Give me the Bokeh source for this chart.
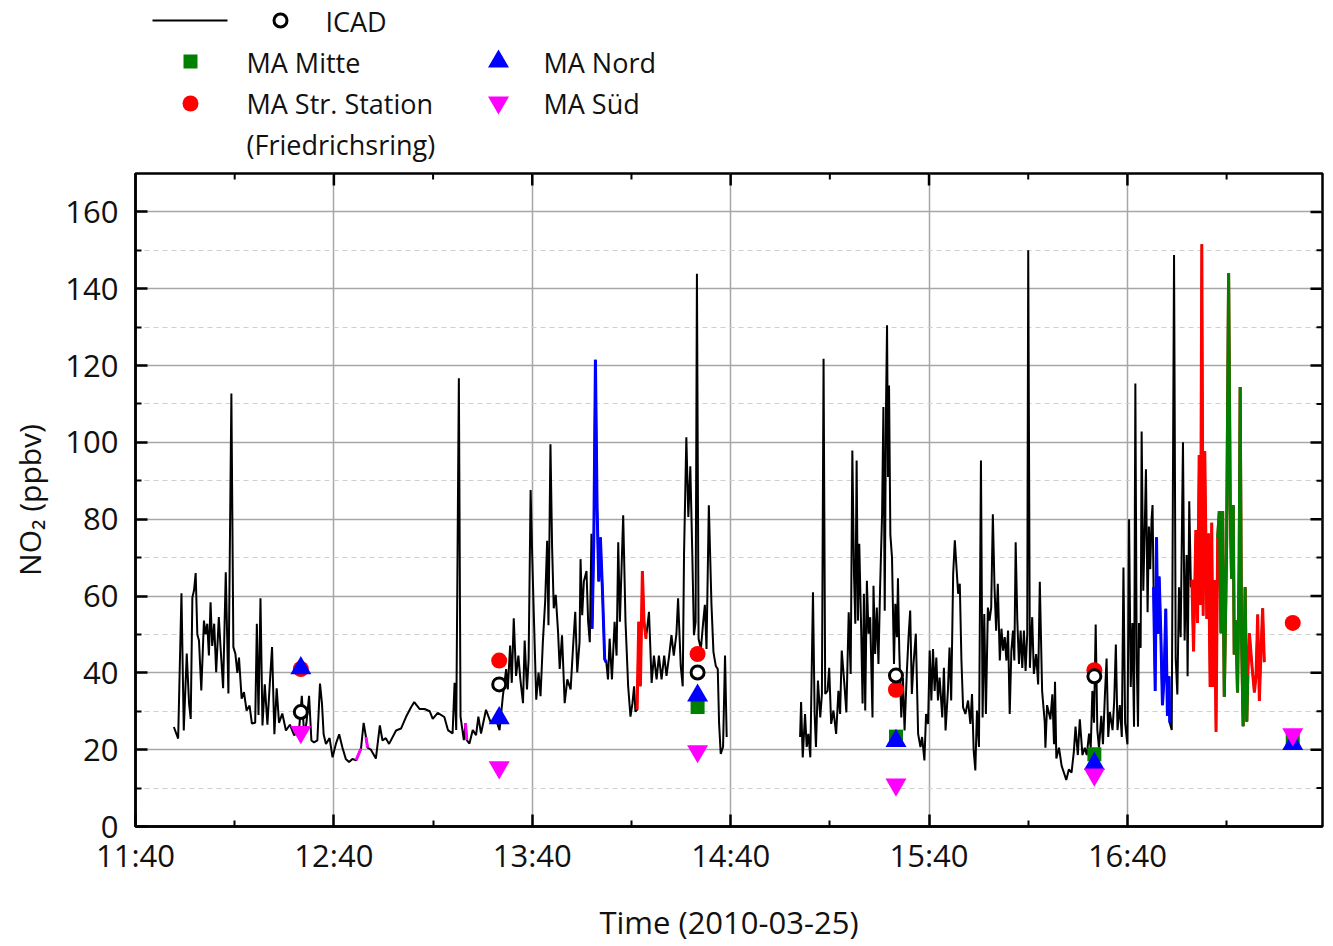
import numpy as np
from bokeh.plotting import figure
from bokeh.models import Range1d, FixedTicker
from bokeh.layouts import column
from bokeh.embed import file_html
from bokeh.resources import INLINE
from bokeh.core.properties import value

FONT = "Open Sans"

# ---------------- data ----------------
# ICAD NO2 time series: time in minutes after 11:40, value in ppbv
icad_t_1 = [11.6, 12.9, 13.9, 14.6, 15.5, 16.2, 16.7, 17.2, 17.7, 18.2, 18.7, 19.2, 19.9, 20.7,
            21.2, 21.7, 22.2, 22.7, 23.2, 23.8, 24.4, 25.2, 25.7, 26.5, 27.3, 28.1, 29.0, 29.6,
            30.2, 30.8, 31.3, 32.1, 32.8, 33.6, 34.5, 35.2, 36.2, 36.7, 37.2, 37.8, 38.4, 39.1,
            39.9, 40.6, 41.3, 42.0, 42.7, 43.4, 44.4, 45.5, 46.7, 48.0, 49.5, 50.3, 51.0, 51.7,
            52.5, 53.2, 54.0, 55.0, 55.8, 56.4, 56.9, 57.6, 58.7, 59.6, 60.6, 61.6, 62.6, 63.6,
            64.6, 65.6, 66.7, 68.2, 69.0, 69.7, 70.2, 71.2, 72.7, 73.9, 74.7, 75.7, 76.7, 78.8,
            80.3, 81.8, 83.3, 84.3, 85.9, 87.4, 89.0, 89.9, 91.4, 93.4,
            94.5, 95.9, 96.5, 97.0, 97.8, 98.3, 99.3, 99.8, 100.2, 101.0, 102.0, 103.0, 103.7,
            104.5, 106.0, 107.5, 109.1, 110.1, 111.1, 112.1, 112.6, 113.3, 113.8, 114.4, 115.1,
            115.8, 116.4, 117.2, 117.7, 118.4, 118.9, 119.5, 120.0, 120.5, 121.2, 121.9, 122.5,
            123.2, 123.9, 124.5, 124.9, 125.5, 126.0, 126.5, 127.1, 127.8, 128.3, 129.0, 129.8,
            130.6, 131.6, 132.3, 133.0, 133.6, 134.3, 134.6, 135.1, 135.6, 136.4, 136.9, 137.4,
            137.9, 138.1, 138.6, 139.1, 139.6, 140.1, 140.6, 141.2, 141.9, 142.4, 142.9, 143.4,
            144.1, 144.9, 145.5, 146.0, 146.5, 147.5, 148.2, 149.0, 149.7, 150.3, 150.8, 151.2,
            151.7, 152.2, 152.7, 153.3, 153.8, 154.4, 155.3, 156.1, 156.8, 157.6, 158.3, 159.1,
            159.9, 160.6, 161.4, 162.1, 162.8, 163.6, 164.1, 164.9, 165.5, 165.9, 166.6, 167.2,
            167.8, 168.4, 168.9, 169.4, 169.8, 170.3, 171.0, 171.7, 172.2, 172.7, 173.4, 174.2,
            174.8, 175.5, 176.1, 176.5, 177.0, 177.7, 178.3, 178.8]
icad_v_1 = [25.9, 22.9, 60.7, 25.0, 45.0, 32.0, 28.0, 59.6, 61.5, 66.0, 50.0, 48.4, 35.4, 53.6,
            50.0, 52.8, 44.5, 58.4, 47.0, 52.8, 40.2, 54.5, 47.0, 36.0, 66.2, 34.6, 112.7, 46.7,
            45.0, 40.0, 44.0, 33.3, 35.0, 30.2, 31.5, 26.8, 27.0, 52.8, 29.0, 59.4, 26.3, 37.0,
            26.5, 37.0, 46.7, 24.0, 36.0, 27.0, 29.4, 25.0, 26.5, 23.7, 25.5, 34.0, 24.0, 27.0,
            34.0, 22.4, 21.9, 22.4, 37.2, 32.0, 24.0, 21.5, 23.0, 18.0, 21.5, 24.0, 20.5, 17.6,
            16.8, 17.6, 17.2, 20.3, 27.0, 23.3, 20.5, 20.0, 17.7, 26.3, 22.4, 23.0, 21.5, 25.0,
            25.5, 28.5, 31.0, 32.4, 30.6, 30.6, 30.0, 28.0, 29.6, 28.5,
            25.1, 24.2, 37.4, 25.1, 116.7, 28.6, 22.5, 26.9, 22.5, 21.6, 25.1, 23.8, 28.6,
            24.2, 30.4, 26.9, 27.7, 25.1, 33.9, 41.0, 35.7, 47.1, 37.4, 54.2, 39.2,
            44.5, 38.3, 32.1, 48.4, 35.7, 43.6, 87.6, 70.0, 54.2, 33.0, 40.1, 33.9,
            48.0, 58.6, 74.4, 52.4, 99.5, 72.6, 56.8, 60.3, 50.6, 41.0, 49.8, 32.1,
            38.3, 35.7, 46.2, 55.9, 40.1, 48.0, 69.6, 55.0, 63.8, 66.5, 53.3, 48.0,
            76.2, 51.5, 73.5, 121.5, 83.2, 63.8, 75.3, 62.1, 43.6, 42.7, 38.3, 48.9,
            38.3, 53.3, 44.5, 74.0, 53.3, 81.0, 53.3, 36.5, 28.6, 32.1, 36.5, 29.9,
            30.4, 53.3, 36.5, 66.5, 53.3, 48.9, 55.9, 37.4, 44.5, 38.3, 44.5, 38.3,
            44.5, 39.2, 44.5, 49.8, 44.5, 50.2, 59.4, 41.8, 36.5, 70.9, 101.3, 80.6,
            93.8, 70.9, 49.8, 53.3, 143.9, 48.9, 46.2, 53.3, 57.7, 46.2, 83.6, 57.7,
            45.4, 41.8, 41.0, 26.9, 18.9, 20.7, 44.5, 23.3]

icad_t_2 = [201.0, 201.3, 201.8, 202.5, 203.0, 203.5, 204.1, 204.9, 205.4, 205.8, 206.4, 207.1,
            207.6, 208.1, 208.6, 209.3, 209.8, 210.4, 211.1, 211.9, 212.6, 213.1, 213.6, 214.4,
            215.0, 215.7, 216.3, 216.8, 217.3, 217.7, 218.1, 218.5, 218.9, 219.5, 219.9, 220.3,
            220.7, 221.2, 221.7, 222.2, 222.9, 223.2, 223.7, 224.2, 224.7, 225.2, 225.8, 226.2,
            226.6, 227.0, 227.3, 227.6, 227.9, 228.3, 228.8, 229.4, 229.8, 230.3, 230.6, 231.0,
            231.6, 232.1, 232.6, 233.3, 233.8, 234.3, 234.8, 235.3, 236.0, 236.7, 237.4, 237.9,
            238.6, 239.1, 239.7, 240.2, 240.7, 241.2, 241.7, 242.2, 242.7, 243.2, 244.0, 244.5,
            245.0, 245.7, 246.2, 246.7, 247.3, 247.8, 248.3, 248.8, 249.3, 249.8, 250.3, 251.0,
            251.8, 252.5, 253.0, 253.5, 254.0, 254.5, 255.1, 255.7, 256.2, 256.7, 257.2, 257.8,
            258.3, 258.8, 259.3, 259.8, 260.3, 260.8, 261.4, 261.9, 262.4, 262.9, 263.4, 263.9,
            264.4, 264.9, 265.4, 265.8, 266.2, 266.7, 267.2, 267.7, 268.2, 268.7, 269.2, 269.7,
            270.0, 270.5, 271.2, 271.7, 272.4, 273.0, 273.5,
            274.2, 275.0, 275.2, 275.7, 276.7, 277.3, 277.8, 278.1, 278.5, 279.3, 280.1, 280.8,
            281.5, 282.3, 283.1, 283.8, 284.3, 285.0, 285.6, 286.4, 287.1, 287.7, 288.4, 288.9,
            289.4, 289.9, 290.4, 290.9, 291.4, 292.1, 292.6, 293.2, 293.7, 294.2, 294.7, 295.5,
            296.0, 296.5, 297.0, 297.7, 298.3, 298.8, 299.3, 300.0, 300.5, 301.0, 301.5, 302.0,
            302.4, 302.8, 303.2, 303.5, 304.0, 304.3, 304.8, 305.2, 305.6, 306.1, 306.5, 306.9,
            307.3, 307.6, 307.9, 308.4, 308.8, 309.2, 309.6, 310.1, 310.6, 311.1, 311.6, 312.1,
            312.6, 312.8, 313.4, 314.1, 314.6, 315.1, 315.6, 316.1, 316.8, 317.3, 317.9, 318.2,
            318.7, 319.2, 319.5, 320.0, 320.7, 321.2, 321.7, 322.1, 322.5, 322.9, 323.4, 324.0,
            324.5, 325.0, 325.5, 325.9, 326.3, 326.8, 327.3, 327.8, 328.3, 328.8, 329.3, 330.0,
            330.6, 331.1, 331.5, 332.0, 332.3, 332.8, 333.3, 333.8, 334.1, 334.5, 335.0, 335.6,
            336.1, 336.4, 336.9, 337.7, 338.4, 338.9, 339.4, 339.9, 340.4, 340.9, 341.4]
icad_v_2 = [23.3, 32.4, 18.0, 29.3, 20.7, 24.1, 18.0, 61.0, 29.3, 20.7, 38.0, 28.4,
            34.5, 121.8, 34.5, 35.3, 41.3, 26.7, 30.2, 24.1, 35.3, 29.3, 45.8, 37.0,
            29.7, 55.8, 39.7, 97.9, 65.8, 52.8, 95.3, 53.6, 73.6, 50.2, 32.0, 60.6,
            30.2, 64.0, 50.2, 54.5, 28.4, 62.7, 44.9, 57.0, 42.3, 62.3, 81.3, 109.2,
            56.2, 110.0, 130.5, 91.0, 114.8, 76.0, 70.0, 42.3, 58.0, 49.3, 64.6, 45.8,
            28.4, 38.8, 25.0, 40.5, 49.3, 56.2, 34.5, 42.3, 50.2, 24.1, 20.7, 23.3,
            17.2, 29.3, 26.7, 45.8, 32.8, 46.2, 35.3, 44.0, 32.8, 38.8, 28.4, 41.3,
            25.0, 35.3, 46.6, 32.8, 65.8, 74.5, 67.5, 60.6, 63.2, 43.2, 31.0, 29.3,
            32.8, 26.7, 34.5, 19.8, 14.6, 30.2, 20.7, 95.3, 28.4, 55.3, 29.3, 57.0,
            53.6, 57.0, 81.3, 62.3, 51.0, 63.2, 43.2, 51.5, 45.8, 49.3, 43.2, 51.0,
            29.3, 45.8, 51.0, 43.2, 74.0, 53.6, 42.3, 51.0, 41.3, 51.0, 40.5, 50.2,
            150.0, 41.3, 54.5, 39.7, 44.9, 37.0, 63.7,
            35.3, 27.0, 20.5, 31.6, 27.9, 34.4, 21.4, 37.7, 17.7, 20.5, 15.8, 14.0,
            12.1, 14.9, 14.0, 19.5, 26.0, 18.6, 27.9, 18.6, 20.5, 18.6, 24.2, 20.5,
            35.3, 27.0, 52.6, 25.1, 20.5, 28.8, 21.4, 34.4, 43.7, 23.3, 29.8, 25.1,
            32.6, 47.4, 25.1, 31.6, 23.3, 67.4, 27.0, 21.4, 80.0, 36.3, 53.0, 26.0,
            115.3, 43.7, 26.0, 53.0, 46.5, 102.8, 61.4, 76.3, 93.0, 55.8, 78.1, 67.0,
            80.0, 83.7, 62.3, 35.3, 75.3, 50.2, 65.1, 50.2, 31.6, 39.1, 56.7, 28.8,
            39.1, 27.0, 25.1, 148.8, 43.7, 34.4, 62.3, 49.3, 100.0, 48.4, 70.7, 39.1,
            84.7, 62.3, 64.2, 45.6, 77.2, 53.0, 96.7, 57.7, 151.6, 54.9, 97.7, 54.0,
            76.3, 36.3, 79.1, 36.3, 64.2, 24.7, 75.3, 82.1, 50.3, 82.1, 33.8, 73.3,
            144.0, 83.2, 64.5, 83.7, 44.8, 53.6, 34.9, 68.9, 114.4, 50.3, 26.1, 62.3,
            27.3, 39.3, 50.3, 41.5, 34.9, 39.3, 55.2, 32.7, 45.9, 56.8, 42.8]

# stretches of the ICAD track coloured by the nearest station (minutes after 11:40)
track_station = ["MA Süd", "MA Süd", "MA Süd", "MA Nord", "MA Str. Station",
                 "MA Nord", "MA Str. Station", "MA Mitte"]
track_start = [66.5, 69.5, 99.7, 138.0, 151.6, 307.8, 319.4, 327.2]
track_end = [68.5, 70.3, 100.3, 142.5, 154.5, 312.9, 341.5, 336.5]

# half-hourly station comparison (minutes after 11:40 -> 12:30 ... 17:30)
station_t = [50, 110, 170, 230, 290, 350]
icad_mean = [29.8, 37.0, 40.1, 39.3, 39.1, np.nan]
ma_mitte = [np.nan, np.nan, 31.1, 23.4, 18.8, 22.4]
ma_nord = [41.2, 28.2, 34.1, 22.3, 16.3, 21.5]
ma_str_station = [41.0, 43.2, 44.9, 35.6, 40.7, 53.0]
ma_sued = [24.6, 15.4, 19.6, 10.9, 13.5, 24.0]

x_ticks = [0, 60, 120, 180, 240, 300]
x_tick_labels = ["11:40", "12:40", "13:40", "14:40", "15:40", "16:40"]
x_minor = [30, 90, 150, 210, 270, 330]
y_ticks = [0, 20, 40, 60, 80, 100, 120, 140, 160]
y_minor = [10, 30, 50, 70, 90, 110, 130, 150]

station_colors = {"MA Mitte": "#008000", "MA Nord": "#0000ff",
                  "MA Str. Station": "#ff0000", "MA Süd": "#ff00ff"}

X0, X1 = 0, 359
Y0, Y1 = 0, 170

# ---------------- main figure ----------------
BL, BR, BT, BB = 135, 8, 5, 119
FRAME_W = 1187
FRAME_H = 653
W = BL + FRAME_W + BR
H = BT + FRAME_H + BB
p = figure(width=W, height=H, output_backend="svg", toolbar_location=None,
           x_range=Range1d(X0, X1), y_range=Range1d(Y0, Y1),
           min_border_left=BL, min_border_right=BR, min_border_top=BT,
           min_border_bottom=BB)
p.outline_line_color = "black"
p.outline_line_width = 2.5

xt = FixedTicker(ticks=x_ticks, minor_ticks=x_minor)
yt = FixedTicker(ticks=y_ticks, minor_ticks=y_minor)


def style_axis(ax):
    ax.axis_line_width = 2.5
    ax.axis_line_color = "black"
    ax.major_tick_in = 12
    ax.major_tick_out = 0
    ax.minor_tick_in = 6
    ax.minor_tick_out = 0
    ax.major_tick_line_width = 2.5
    ax.minor_tick_line_width = 2
    ax.major_tick_line_color = "black"
    ax.minor_tick_line_color = "black"
    ax.major_label_text_font = FONT
    ax.major_label_text_font_size = "31px"
    ax.major_label_text_color = "#111111"
    ax.axis_label_text_font = FONT
    ax.axis_label_text_font_style = "normal"
    ax.axis_label_text_color = "#111111"


xa = p.xaxis[0]
xa.ticker = xt
xa.major_label_overrides = {t: lab for t, lab in zip(x_ticks, x_tick_labels)}
style_axis(xa)
xa.axis_label = "Time (2010-03-25)"
xa.axis_label_text_font_size = "31px"
xa.major_label_standoff = 7
xa.axis_label_standoff = 22

ya = p.yaxis[0]
ya.ticker = yt
style_axis(ya)
ya.axis_label = "NO\u2082 (ppbv)"
ya.axis_label_text_font_size = "30px"
ya.major_label_standoff = 17
ya.axis_label_standoff = 12

p.xgrid.ticker = FixedTicker(ticks=x_ticks)
p.xgrid.grid_line_color = "#a6a6a6"
p.xgrid.grid_line_width = 1.5
p.ygrid.ticker = yt
p.ygrid.grid_line_color = "#a6a6a6"
p.ygrid.grid_line_width = 1.5
p.ygrid.minor_grid_line_color = "#cfcfcf"
p.ygrid.minor_grid_line_width = 1.2
p.ygrid.minor_grid_line_dash = "5 4"

# mirrored inward ticks on the top and right frame edges
px_x = (X1 - X0) / FRAME_W   # data units per pixel, x
px_y = (Y1 - Y0) / FRAME_H   # data units per pixel, y
p.segment(x0=x_ticks[1:], y0=[Y1] * 5, x1=x_ticks[1:], y1=[Y1 - 12 * px_y] * 5,
          line_color="black", line_width=2.5)
p.segment(x0=x_minor, y0=[Y1] * 6, x1=x_minor, y1=[Y1 - 6 * px_y] * 6,
          line_color="black", line_width=2)
p.segment(x0=[X1] * 8, y0=y_ticks[1:], x1=[X1 - 12 * px_x] * 8, y1=y_ticks[1:],
          line_color="black", line_width=2.5)
p.segment(x0=[X1] * 8, y0=y_minor, x1=[X1 - 6 * px_x] * 8, y1=y_minor,
          line_color="black", line_width=2)

# ICAD track (gap between the two measurement periods)
all_t = np.array(icad_t_1 + [np.nan] + icad_t_2)
all_v = np.array(icad_v_1 + [np.nan] + icad_v_2)
p.line(all_t, all_v, line_color="black", line_width=2)

for st, t0, t1 in zip(track_station, track_start, track_end):
    m = (all_t >= t0) & (all_t <= t1)
    p.line(all_t[m], all_v[m], line_color=station_colors[st], line_width=3)

# station markers
p.scatter(station_t, ma_str_station, marker="circle", size=16,
          fill_color=station_colors["MA Str. Station"], line_color=None)
p.scatter(station_t, ma_mitte, marker="square", size=14,
          fill_color=station_colors["MA Mitte"], line_color=None)
p.scatter(station_t, ma_nord, marker="triangle", size=21,
          fill_color=station_colors["MA Nord"], line_color=None)
p.scatter(station_t, ma_sued, marker="inverted_triangle", size=21,
          fill_color=station_colors["MA Süd"], line_color=None)
p.scatter(station_t, icad_mean, marker="circle", size=13,
          fill_color="white", line_color="black", line_width=3)

# ---------------- legend (separate strip above, frame aligned with the plot) ----------------
LH = 168
leg = figure(width=W, height=LH, output_backend="svg", toolbar_location=None,
             x_range=Range1d(0, FRAME_W), y_range=Range1d(LH, 0),
             min_border_left=BL, min_border_right=BR, min_border_top=0, min_border_bottom=0,
             x_axis_location=None, y_axis_location=None)
leg.outline_line_color = None
leg.grid.visible = False

OFF = BL  # page x of the frame's left edge
leg.line([152 - OFF, 227 - OFF], [20, 20], line_color="black", line_width=2)
leg.scatter([280 - OFF], [20], marker="circle", size=13, fill_color="white",
            line_color="black", line_width=3)
leg.scatter([190 - OFF], [61], marker="square", size=14, fill_color=station_colors["MA Mitte"],
            line_color=None)
leg.scatter([498 - OFF], [61], marker="triangle", size=21, fill_color=station_colors["MA Nord"],
            line_color=None)
leg.scatter([190 - OFF], [103], marker="circle", size=16,
            fill_color=station_colors["MA Str. Station"], line_color=None)
leg.scatter([498 - OFF], [102], marker="inverted_triangle", size=21,
            fill_color=station_colors["MA Süd"], line_color=None)

leg_text = ["ICAD", "MA Mitte", "MA Nord", "MA Str. Station", "MA Süd", "(Friedrichsring)"]
leg_x = [325 - OFF, 246 - OFF, 543 - OFF, 246 - OFF, 543 - OFF, 246 - OFF]
leg_y = [21, 62, 62, 103, 103, 144]
leg.text(leg_x, leg_y, text=leg_text, text_font=value(FONT), text_font_size="27px",
         text_baseline="middle", text_align="left", text_color="#111111")

layout = column(leg, p, spacing=0)
open("out.html", "w").write(file_html(layout, INLINE))
